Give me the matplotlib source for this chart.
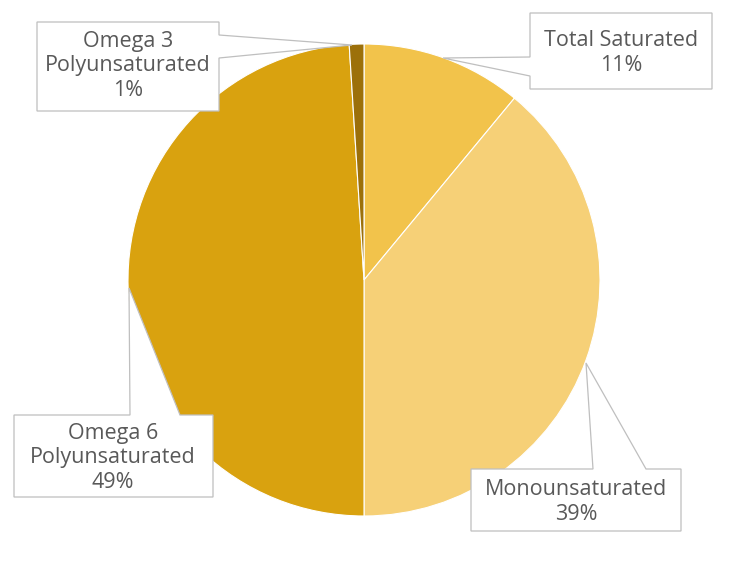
import matplotlib.pyplot as plt
from matplotlib.patches import Polygon

# Fat composition data
categories = ["Total Saturated", "Monounsaturated",
              "Omega 6\nPolyunsaturated", "Omega 3\nPolyunsaturated"]
values = [11, 39, 49, 1]
colors = ["#F2C34B", "#F6D077", "#D9A20F", "#9C700A"]

W, H = 729, 562

def flip(pts):
    # pixel coords (y down) -> data coords (y up)
    return [(x, H - y) for x, y in pts]

fig = plt.figure(figsize=(W / 100, H / 100), dpi=100)
ax = fig.add_axes([0, 0, 1, 1])

ax.pie(values, colors=colors, startangle=90, counterclock=False,
       center=(364, H - 280), radius=236, frame=True,
       wedgeprops=dict(edgecolor="white", linewidth=0.8))
ax.set_xlim(0, W)
ax.set_ylim(0, H)
ax.set_aspect("equal")
ax.axis("off")

# callout boxes (outline incl. pointer) and text centre, in pixels
callouts = [
    ([(530, 13), (712, 13), (712, 89), (530, 89), (530, 76), (443, 58), (530, 57)], (621, 53)),
    ([(471, 469), (593, 469), (586, 363), (646, 469), (681, 469), (681, 531), (471, 531)], (576, 502)),
    ([(14, 415), (130, 415), (129, 288), (180, 415), (213, 415), (213, 497), (14, 497)], (113, 458)),
    ([(37, 22), (219, 22), (219, 35), (352, 45), (219, 58), (219, 111), (37, 111)], (128, 66)),
]

for (outline, (tx, ty)), name, v in zip(callouts, categories, values):
    ax.add_patch(Polygon(flip(outline), closed=True, facecolor="white",
                         edgecolor="#BFBFBF", linewidth=0.9, zorder=3))
    ax.text(tx, H - ty, f"{name}\n{v}%", ha="center", va="center",
            fontsize=15.5, color="#595959", family="Open Sans",
            linespacing=1.2, zorder=4)

plt.savefig("out.png", dpi=100)
